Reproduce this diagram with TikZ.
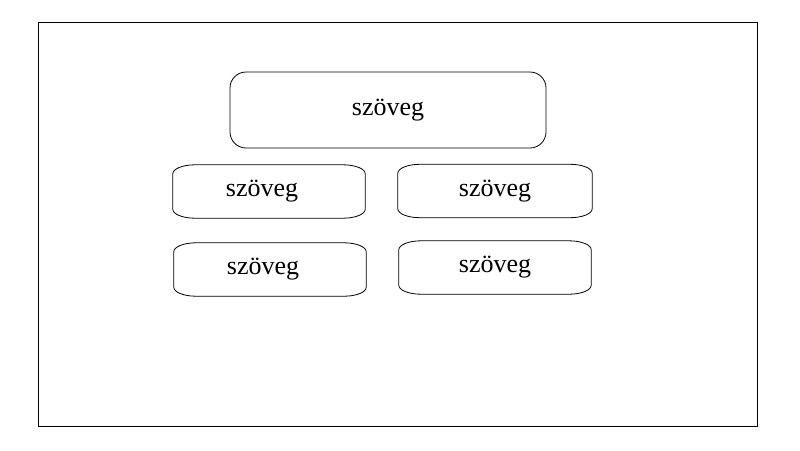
\documentclass[tikz,border=0pt]{standalone}
\usepackage{fontspec}
\setmainfont{Liberation Serif}
\usepackage{tikz}

\newcommand{\ovalframe}[1]{%
\draw[line width=0.8pt] ([xshift=22pt]#1.north west) -- ([xshift=-22pt]#1.north east)
  arc[start angle=90, end angle=0, x radius=22pt, y radius=9pt]
  -- ([yshift=9pt]#1.south east)
  arc[start angle=0, end angle=-90, x radius=22pt, y radius=9pt]
  -- ([xshift=22pt]#1.south west)
  arc[start angle=270, end angle=180, x radius=22pt, y radius=9pt]
  -- ([yshift=-9pt]#1.north west)
  arc[start angle=180, end angle=90, x radius=22pt, y radius=9pt] -- cycle;}

\begin{document}
\begin{tikzpicture}[x=1pt, y=1pt,
  bigbox/.style={draw, line width=0.8pt, rounded corners=16pt, minimum width=316pt, minimum height=76pt, inner sep=0pt},
  smallbox/.style={minimum width=192pt, minimum height=53pt, inner sep=0pt},
  font=\fontsize{26}{30}\selectfont]
\useasboundingbox (0,0) rectangle (800,-450);

\node[draw, line width=0.8pt, minimum width=719pt, minimum height=404pt, inner sep=0pt, anchor=north west] (frame) at (38,-22) {};

\node[bigbox] (top) at (388,-110) {szöveg};

\node[smallbox, label={[xshift=-7pt]center:szöveg}] (b1) at (269,-191.5) {};

\node[smallbox, minimum width=194pt] (b2) at (495,-191) {szöveg};

\node[smallbox, label={[xshift=-7pt]center:szöveg}] (b3) at (270,-269.5) {};

\node[smallbox] (b4) at (495,-267.5) {szöveg};

\ovalframe{b1}
\ovalframe{b2}
\ovalframe{b3}
\ovalframe{b4}

\end{tikzpicture}
\end{document}
